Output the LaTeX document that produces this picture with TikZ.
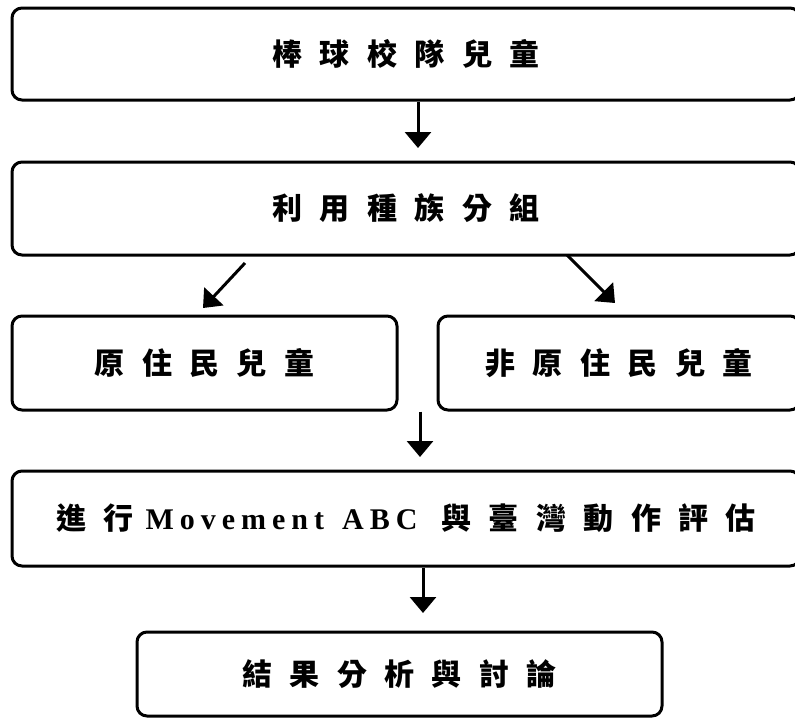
\documentclass[tikz,border=0pt]{standalone}
\usepackage{fontspec}
\usetikzlibrary{arrows.meta}
\newfontfamily\cjk[LetterSpace=58]{Noto Sans CJK TC}
\newfontfamily\latf[LetterSpace=20]{Liberation Serif}
\begin{document}
\begin{tikzpicture}[x=1pt,y=-1pt,
  box/.style={draw, line width=3pt, rounded corners=10pt, inner sep=0pt},
  lbl/.style={font=\fontsize{30}{34}\selectfont\bfseries\cjk},
  arr/.style={line width=3pt, -{Triangle[width=26pt,length=16pt]}}]
\useasboundingbox (0,0) rectangle (795,724);
\clip (0,0) rectangle (795,724);
\node[box, lbl, minimum width=788pt, minimum height=92pt] (b1) at (406,54) {棒球校隊兒童};
\node[box, lbl, minimum width=788pt, minimum height=93pt] (b2) at (406,208.5) {利用種族分組};
\node[box, lbl, minimum width=385pt, minimum height=94pt] (b3) at (204.5,363) {原住民兒童};
\node[box, lbl, minimum width=362pt, minimum height=94pt] (b4) at (619,363) {非原住民兒童};
\node[box, lbl, minimum width=788pt, minimum height=95pt] (b5) at (406,518.5) {進行\hspace{12pt}{\latf\fontsize{30}{34}\selectfont Movement\hspace{18pt}ABC}\hspace{24pt}與臺灣動作評估\hspace{8pt}};
\node[box, lbl, minimum width=525pt, minimum height=84pt] (b6) at (399.5,674) {結果分析與討論};
\coordinate (t1) at (418,148);
\coordinate (d1s) at (245,263);
\coordinate (d1e) at (203,308);
\coordinate (d2s) at (567,255);
\coordinate (d2e) at (615,303);
\coordinate (t2) at (420,457);
\coordinate (t3) at (423,613);
\draw[arr] (b1.south -| t1) -- (t1);
\draw[arr] (d1s) -- (d1e);
\draw[arr] (d2s) -- (d2e);
\draw[arr] (b3.south -| t2) -- (t2);
\draw[arr] (b5.south -| t3) -- (t3);
\end{tikzpicture}
\end{document}
